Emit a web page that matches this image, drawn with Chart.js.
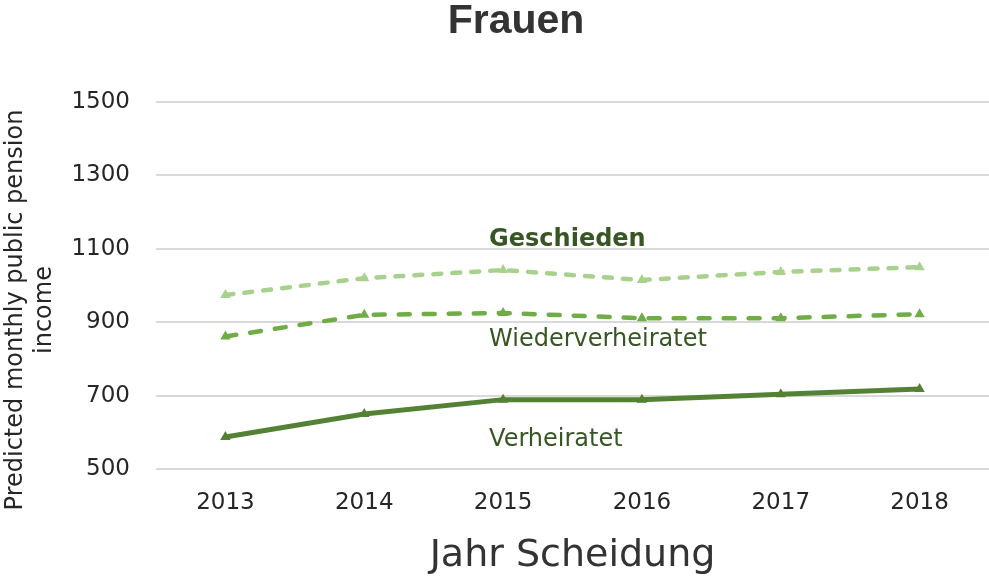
<!DOCTYPE html>
<html>
<head>
<meta charset="utf-8">
<script src="https://cdn.jsdelivr.net/npm/chart.js@4"></script>
<style>
    html, body { margin: 0; padding: 0; background: #ffffff; }
    #box { width: 989px; height: 584px; }
</style>
</head>
<body>
<div id="box"><canvas id="graficoFrauen" width="989" height="584"></canvas></div>
<script>
const jahre = ["2013", "2014", "2015", "2016", "2017", "2018"];
const verheiratet = [587, 650, 689, 689, 704, 718];
const wiederverheiratet = [861, 920, 925, 911, 911, 922];
const geschieden = [974, 1020, 1042, 1015, 1037, 1050];
const yTicks = [500, 700, 900, 1100, 1300, 1500];

// Beschriftungen der Linien: Text, Wert auf der y-Achse, fett ja/nein
const linienLabels = [
    { text: "Geschieden", wert: 1124, fett: true },
    { text: "Wiederverheiratet", wert: 852, fett: false },
    { text: "Verheiratet", wert: 580, fett: false }
];

const labelPlugin = {
    id: "linienLabels",
    afterDatasetsDraw(chart) {
        const ctx = chart.ctx;
        const x = chart.scales.x.getPixelForValue(2) - 14;
        ctx.save();
        ctx.fillStyle = "#375623";
        ctx.textAlign = "left";
        ctx.textBaseline = "middle";
        linienLabels.forEach(l => {
            ctx.font = (l.fett ? "bold " : "") + "24px 'DejaVu Sans'";
            ctx.fillText(l.text, x, chart.scales.y.getPixelForValue(l.wert));
        });
        ctx.restore();
    }
};

// Titel und y-Achsentitel selbst zeichnen (Position wie im Original)
const textPlugin = {
    id: "texte",
    afterDraw(chart) {
        const ctx = chart.ctx;
        ctx.save();
        ctx.textAlign = "center";
        ctx.textBaseline = "middle";
        ctx.fillStyle = "#333333";
        ctx.font = "bold 41px 'Liberation Sans', Arial";
        ctx.fillText("Frauen", 516, 22);

        ctx.fillStyle = "#262626";
        ctx.font = "24px 'DejaVu Sans'";
        ctx.translate(0, 310);
        ctx.rotate(-Math.PI / 2);
        ctx.fillText("Predicted monthly public pension", 0, 16);
        ctx.fillText("income", 0, 45);
        ctx.restore();
    }
};

const ctx = document.getElementById("graficoFrauen");

new Chart(ctx, {
    type: "line",
    data: {
        labels: jahre,
        datasets: [
            {
                label: "Geschieden",
                data: geschieden,
                borderColor: "#a9d18e",
                backgroundColor: "#a9d18e",
                borderWidth: 4.5,
                borderDash: [8, 11],
                borderCapStyle: "round",
                pointStyle: "triangle",
                pointRadius: 6,
                pointBorderWidth: 0
            },
            {
                label: "Wiederverheiratet",
                data: wiederverheiratet,
                borderColor: "#70ad47",
                backgroundColor: "#70ad47",
                borderWidth: 4.5,
                borderDash: [11, 14],
                borderCapStyle: "round",
                pointStyle: "triangle",
                pointRadius: 6,
                pointBorderWidth: 0
            },
            {
                label: "Verheiratet",
                data: verheiratet,
                borderColor: "#548235",
                backgroundColor: "#548235",
                borderWidth: 5,
                pointStyle: "triangle",
                pointRadius: 6,
                pointBorderWidth: 0
            }
        ]
    },
    options: {
        responsive: false,
        animation: false,
        layout: {
            autoPadding: false,
            padding: { left: 0, right: 0, top: 102, bottom: 0 }
        },
        plugins: {
            legend: { display: false },
            tooltip: { enabled: false },
            title: { display: false }
        },
        scales: {
            x: {
                offset: true,
                afterFit: axis => {
                    axis.height = 115;
                    axis.paddingLeft = 0;
                    axis.paddingRight = 0;
                },
                grid: { display: false },
                border: { display: false },
                ticks: {
                    color: "#262626",
                    font: { family: "'DejaVu Sans'", size: 23 },
                    padding: 12
                },
                title: {
                    display: true,
                    text: "Jahr Scheidung",
                    color: "#333333",
                    font: { family: "'DejaVu Sans'", size: 38 },
                    padding: { top: 0, bottom: 5 }
                }
            },
            y: {
                min: 500,
                max: 1500,
                afterFit: axis => { axis.width = 156; },
                afterBuildTicks: axis => {
                    axis.ticks = yTicks.map(v => ({ value: v }));
                },
                grid: {
                    color: "#d9d9d9",
                    lineWidth: 2,
                    drawTicks: false
                },
                border: { display: false },
                ticks: {
                    color: "#262626",
                    font: { family: "'DejaVu Sans'", size: 23 },
                    padding: 26,
                    callback: v => String(v)
                }
            }
        }
    },
    plugins: [labelPlugin, textPlugin]
});
</script>
</body>
</html>
